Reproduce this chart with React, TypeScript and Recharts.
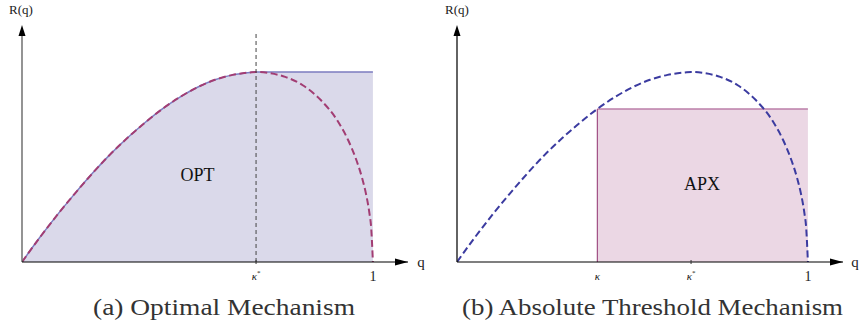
import React from 'react';
import { ComposedChart, Line, Area, XAxis, YAxis, ReferenceLine, ReferenceDot } from 'recharts';

// quantile q and revenue curve R(q)
const qValues = [0, 0.05, 0.1, 0.15, 0.2, 0.25, 0.3, 0.35, 0.4, 0.45, 0.5, 0.55, 0.6, 0.65, 0.667, 0.7, 0.75, 0.8, 0.85, 0.9, 0.93, 0.95, 0.97, 0.98, 0.99, 0.995, 1];
const revenueValues = [0, 0.049, 0.095, 0.138, 0.179, 0.217, 0.251, 0.282, 0.31, 0.334, 0.354, 0.369, 0.379, 0.384, 0.385, 0.383, 0.375, 0.358, 0.329, 0.285, 0.246, 0.212, 0.168, 0.139, 0.099, 0.07, 0];

const kappaStar = 0.667;
const peakRevenue = 0.385;
const kappa = 0.4;
const thresholdRevenue = 0.31;

const captions = ['(a) Optimal Mechanism', '(b) Absolute Threshold Mechanism'];

const curve = qValues.map((q, i) => ({ q, r: revenueValues[i] }));
const optData = [...curve.filter((d) => d.q <= kappaStar), { q: 1, r: peakRevenue }];
const apxData = [{ q: kappa, r: thresholdRevenue }, { q: 1, r: thresholdRevenue }];

const serif = '"Liberation Serif", "DejaVu Serif", serif';
const W = 430;
const H = 327;
const yTop = 0.48;

function QTick(props: any) {
  const { x, y, payload } = props;
  const v = payload.value;
  if (v === 1) {
    return (
      <text x={x} y={y + 17} textAnchor="middle" fontSize={14} fontFamily={serif} fill="#222">1</text>
    );
  }
  const star = v === kappaStar;
  return (
    <g>
      {star && <line x1={x} x2={x} y1={y - 4} y2={y} stroke="#333" strokeWidth={1} />}
      <text x={x} y={y + 16} textAnchor="middle" fontSize={11} fontFamily={serif} fill="#111">
        <tspan fontStyle="italic">κ</tspan>
        {star && <tspan dy={-5} fontSize={7}>*</tspan>}
      </text>
    </g>
  );
}

const xArrow = (p: any) => (
  <polygon points={`${p.cx},${p.cy} ${p.cx - 13},${p.cy - 3.5} ${p.cx - 13},${p.cy + 3.5}`} fill="#000" />
);
const yArrow = (p: any) => (
  <polygon points={`${p.cx},${p.cy} ${p.cx - 3.5},${p.cy + 11} ${p.cx + 3.5},${p.cy + 11}`} fill="#000" />
);

function Axes({ ticks }: { ticks: number[] }) {
  return [
    <XAxis
      key="x"
      dataKey="q"
      type="number"
      domain={[0, 1.1]}
      allowDataOverflow
      ticks={ticks}
      tick={<QTick />}
      tickLine={false}
      tickSize={0}
      height={30}
      axisLine={{ stroke: '#000', strokeWidth: 1.2 }}
    />,
    <YAxis key="y" type="number" domain={[0, yTop]} allowDataOverflow width={0} hide />,
  ];
}

function Arrows({ axisColor }: { axisColor: string }) {
  return [
    <ReferenceLine key="ya" segment={[{ x: 0, y: 0 }, { x: 0, y: yTop - 0.01 }]} stroke={axisColor} strokeWidth={1.4} ifOverflow="visible" />,
    <ReferenceDot key="xa" x={1.1} y={0} ifOverflow="visible" shape={xArrow} />,
    <ReferenceDot key="yh" x={0} y={yTop} ifOverflow="visible" shape={yArrow} />,
  ];
}

function OptimalPanel() {
  return (
    <ComposedChart width={W} height={H} margin={{ top: 25, right: 22, left: 22, bottom: 35 }}>
      {Axes({ ticks: [kappaStar, 1] })}
      <Area
        data={optData}
        dataKey="r"
        type="monotone"
        fill="#dad9ea"
        fillOpacity={1}
        stroke="#7c7cc0"
        strokeWidth={1.5}
        isAnimationActive={false}
      />
      <Line
        data={curve}
        dataKey="r"
        type="monotone"
        stroke="#a23d73"
        strokeWidth={2}
        strokeDasharray="7 3.5"
        dot={false}
        isAnimationActive={false}
      />
      <ReferenceLine
        segment={[{ x: kappaStar, y: 0 }, { x: kappaStar, y: 0.465 }]}
        stroke="#444"
        strokeWidth={1}
        strokeDasharray="4 3"
      />
      <ReferenceDot x={0.5} y={0.177} r={0} label={{ value: 'OPT', position: 'center', fontSize: 18, fontFamily: serif, fill: '#111' }} />
      {Arrows({ axisColor: '#666' })}
    </ComposedChart>
  );
}

function ThresholdPanel() {
  return (
    <ComposedChart width={W} height={H} margin={{ top: 25, right: 17, left: 27, bottom: 35 }}>
      {Axes({ ticks: [kappa, kappaStar, 1] })}
      <Area
        data={apxData}
        dataKey="r"
        type="linear"
        fill="#ebd7e4"
        fillOpacity={1}
        stroke="#bb7ea8"
        strokeWidth={1.6}
        isAnimationActive={false}
      />
      <ReferenceLine
        segment={[{ x: kappa, y: 0 }, { x: kappa, y: thresholdRevenue }]}
        stroke="#a04f84"
        strokeWidth={1.2}
      />
      <Line
        data={curve}
        dataKey="r"
        type="monotone"
        stroke="#3b3ba0"
        strokeWidth={2}
        strokeDasharray="7 3.5"
        dot={false}
        isAnimationActive={false}
      />
      <ReferenceDot x={0.698} y={0.159} r={0} label={{ value: 'APX', position: 'center', fontSize: 18, fontFamily: serif, fill: '#111' }} />
      {Arrows({ axisColor: '#222' })}
    </ComposedChart>
  );
}

export default function App() {
  return (
    <div style={{ position: 'absolute', left: 0, top: 0, width: 860, height: 327, background: '#fff' }}>
      <div style={{ position: 'absolute', left: 0, top: 0 }}>
        <OptimalPanel />
      </div>
      <div style={{ position: 'absolute', left: 430, top: 0 }}>
        <ThresholdPanel />
      </div>
      <svg width={860} height={327} style={{ position: 'absolute', left: 0, top: 0, pointerEvents: 'none' }}>
        <g fontFamily={serif} fill="#222">
          <text x={21} y={14} fontSize={13} textAnchor="middle">R(q)</text>
          <text x={457} y={14} fontSize={13} textAnchor="middle">R(q)</text>
          <text x={421} y={267} fontSize={15} textAnchor="middle">q</text>
          <text x={855} y={267} fontSize={15} textAnchor="middle">q</text>
        </g>
        <g fontFamily={serif} fill="#333" fontSize={23}>
          <text x={93} y={315} textLength={262} lengthAdjust="spacingAndGlyphs">{captions[0]}</text>
          <text x={462} y={315} textLength={381} lengthAdjust="spacingAndGlyphs">{captions[1]}</text>
        </g>
      </svg>
    </div>
  );
}
